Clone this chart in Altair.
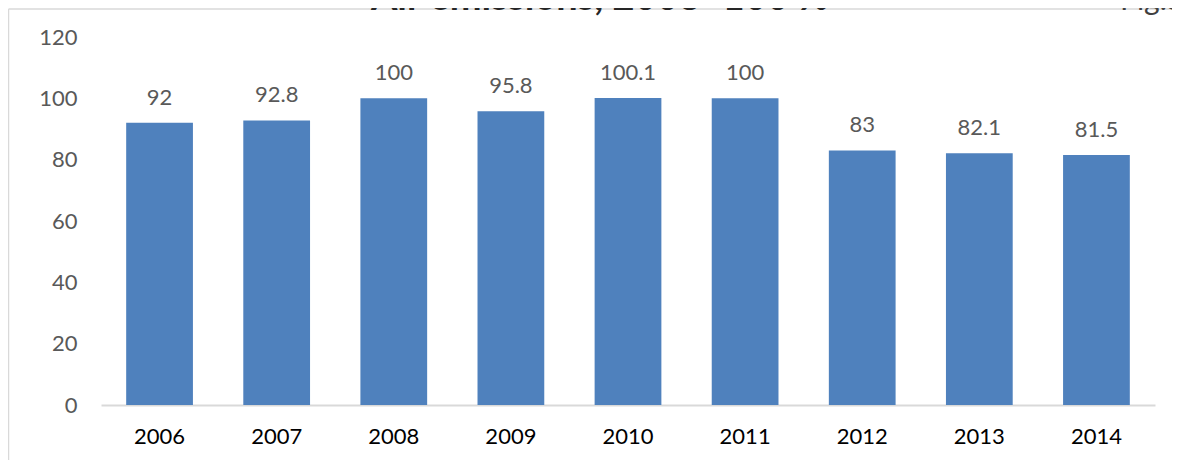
import altair as alt
import pandas as pd

years = ["2006", "2007", "2008", "2009", "2010", "2011", "2012", "2013", "2014"]
values = [92, 92.8, 100, 95.8, 100.1, 100, 83, 82.1, 81.5]
labels = ["92", "92.8", "100", "95.8", "100.1", "100", "83", "82.1", "81.5"]
y_ticks = [0, 20, 40, 60, 80, 100, 120]
title_text = ["Air emissions, 2008=100 %"]
fig_text = ["Fig.5"]

df = pd.DataFrame({"year": years, "value": values, "label": labels})

FONT = "Lato"
W, H = 1054, 368

base = alt.Chart(df).encode(
    x=alt.X(
        "year:N",
        sort=years,
        scale=alt.Scale(paddingInner=0.43, paddingOuter=0.215),
        axis=alt.Axis(
            title=None, labelAngle=0, ticks=False, grid=False,
            domainColor="#d9d9d9", domainWidth=2,
            labelFont=FONT, labelFontSize=22, labelColor="#000000",
            labelPadding=21,
        ),
    )
)

bars = base.mark_bar(color="#4f81bd").encode(
    y=alt.Y(
        "value:Q",
        scale=alt.Scale(domain=[0, 120], nice=False),
        axis=alt.Axis(
            values=y_ticks, title=None, ticks=False, domain=False, grid=False,
            labelFont=FONT, labelFontSize=22, labelColor="#595959",
            labelPadding=24,
        ),
    )
)

value_text = base.mark_text(
    font=FONT, fontSize=22, color="#595959", baseline="alphabetic", dy=-18
).encode(y="value:Q", text="label:N")

deco = alt.Chart(pd.DataFrame({"a": [0]}))
border_left = deco.mark_rule(color="#d9d9d9", strokeWidth=1.5).encode(
    x=alt.value(-92.5), y=alt.value(-28), y2=alt.value(480)
)
border_top = deco.mark_rule(color="#d9d9d9", strokeWidth=1.5).encode(
    x=alt.value(-92.5), x2=alt.value(1100), y=alt.value(-28)
)

title = alt.Chart(pd.DataFrame({"t": title_text})).mark_text(
    font=FONT, fontSize=38, fontWeight="bold", color="#262626",
    align="center", baseline="alphabetic",
).encode(x=alt.value(499), y=alt.value(-27.5), text="t:N")

fig = alt.Chart(pd.DataFrame({"t": fig_text})).mark_text(
    font=FONT, fontSize=30, color="#404040",
    align="left", baseline="alphabetic",
).encode(x=alt.value(1019), y=alt.value(-27.5), text="t:N")

chart = alt.layer(border_left, border_top, bars, value_text, title, fig).properties(
    width=W, height=H,
    autosize="none",
    padding={"left": 93, "top": 29, "right": 17, "bottom": 55},
    background="#ffffff",
).configure_view(strokeWidth=0)

chart.save("out.html", embed_options={"renderer": "svg", "actions": False})
